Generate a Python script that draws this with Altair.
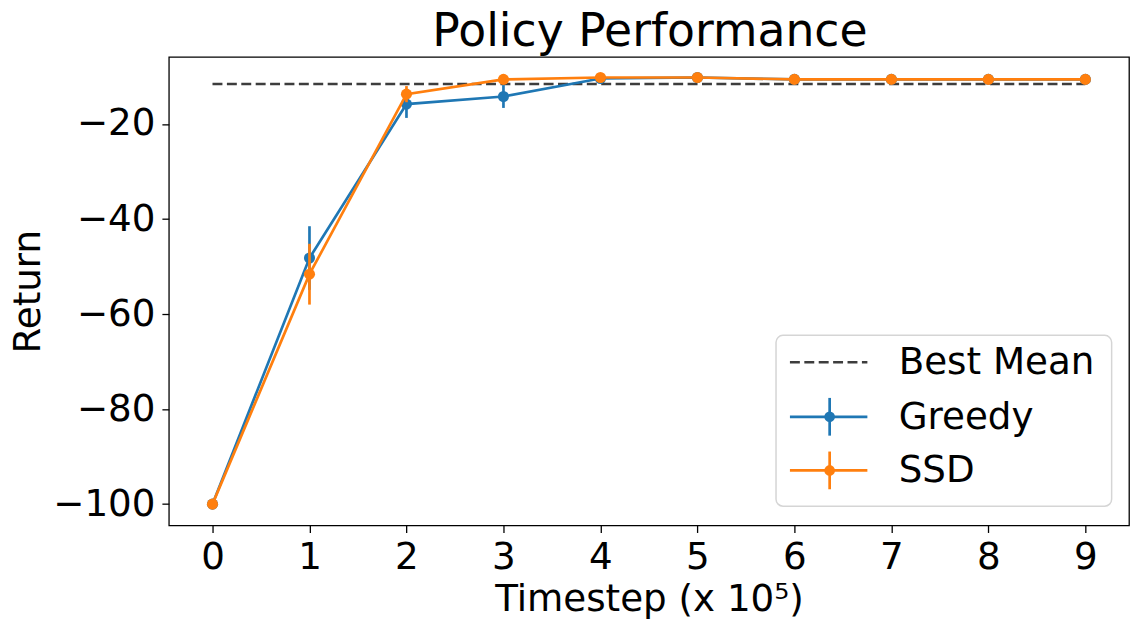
import altair as alt
import pandas as pd

# ---- data ----
timesteps = [0, 1, 2, 3, 4, 5, 6, 7, 8, 9]
greedy_mean = [-100.0, -48.2, -15.8, -14.2, -10.4, -10.2, -10.6, -10.6, -10.6, -10.6]
greedy_err = [0.3, 6.7, 2.9, 2.4, 0.4, 0.3, 0.3, 0.3, 0.3, 0.3]
ssd_mean = [-100.0, -51.6, -13.7, -10.6, -10.2, -10.2, -10.6, -10.6, -10.6, -10.6]
ssd_err = [0.3, 6.4, 1.7, 0.5, 0.4, 0.3, 0.3, 0.3, 0.3, 0.3]
best_mean = -11.55
series_names = ["Greedy", "SSD"]
series_colors = ["#1f77b4", "#ff7f0e"]
legend_labels = ["Best Mean", "Greedy", "SSD"]
chart_title = "Policy Performance"
x_ticks = [0, 1, 2, 3, 4, 5, 6, 7, 8, 9]
y_ticks = [-100, -80, -60, -40, -20]

rows = []
for name, means, errs in [("Greedy", greedy_mean, greedy_err), ("SSD", ssd_mean, ssd_err)]:
    for t, m, e in zip(timesteps, means, errs):
        rows.append({"series": name, "t": t, "mean": m, "lo": m - e, "hi": m + e})
df = pd.DataFrame(rows)
best_df = pd.DataFrame({"x0": [timesteps[0]], "x1": [timesteps[-1]], "y": [best_mean]})
dummy = pd.DataFrame({"d": [0]})

FONT = "DejaVu Sans"
FS = 37.5
W, H = 967, 472

xscale = alt.Scale(domain=[-0.45, 9.45], nice=False, zero=False)
yscale = alt.Scale(domain=[-104.5, -5.85], nice=False, zero=False)

x_axis = alt.Axis(values=x_ticks, format="d", title="Timestep (x 10⁵)", grid=False, domain=False,
                  tickSize=7, tickWidth=1.3, tickColor="black", labelFontSize=FS, titleFontSize=FS,
                  labelFont=FONT, titleFont=FONT, labelColor="black", titleColor="black",
                  titleFontWeight="normal", labelPadding=6, titlePadding=5, labelFlush=False)
y_axis = alt.Axis(values=y_ticks, format="d", title="Return", grid=False, domain=False,
                  tickSize=7, tickWidth=1.3, tickColor="black", labelFontSize=FS, titleFontSize=FS,
                  labelFont=FONT, titleFont=FONT, labelColor="black", titleColor="black",
                  titleFontWeight="normal", labelPadding=7, titlePadding=5, labelFlush=False)

X = alt.X("t:Q", scale=xscale, axis=x_axis)

layers = []
best = alt.Chart(best_df).mark_rule(color="#3d3d3d", strokeWidth=2.6, strokeDash=[10, 4.5]).encode(
    x=alt.X("x0:Q", scale=xscale, axis=x_axis), x2="x1:Q",
    y=alt.Y("y:Q", scale=yscale, axis=y_axis))
layers.append(best)

for name, color in zip(series_names, series_colors):
    base = alt.Chart(df).transform_filter(alt.datum.series == name)
    layers.append(base.mark_line(color=color, strokeWidth=2.7).encode(
        x=X, y=alt.Y("mean:Q", scale=yscale, axis=y_axis)))
    layers.append(base.mark_rule(color=color, strokeWidth=2.7).encode(
        x=X, y=alt.Y("lo:Q", scale=yscale, axis=y_axis), y2="hi:Q"))
    layers.append(base.mark_circle(color=color, size=125, opacity=1).encode(
        x=X, y=alt.Y("mean:Q", scale=yscale, axis=y_axis)))

# ---- legend (drawn manually to reproduce matplotlib's handles) ----
lg = alt.Chart(dummy)
layers.append(lg.mark_rect(fill="white", stroke="#d5d5d5", strokeWidth=1.5, cornerRadius=7).encode(
    x=alt.value(611.5), x2=alt.value(949.5), y=alt.value(280.5), y2=alt.value(452.5)))
row_y = [307.5, 362.5, 416.5]
layers.append(lg.mark_rule(color="#3d3d3d", strokeWidth=2.6, strokeDash=[10, 4.5]).encode(
    x=alt.value(625.5), x2=alt.value(703.5), y=alt.value(row_y[0])))
for ry, color in zip(row_y[1:], series_colors):
    layers.append(lg.mark_rule(color=color, strokeWidth=2.7).encode(
        x=alt.value(625.5), x2=alt.value(703.5), y=alt.value(ry)))
    layers.append(lg.mark_rule(color=color, strokeWidth=2.7).encode(
        x=alt.value(665.5), y=alt.value(ry - 19), y2=alt.value(ry + 19)))
    layers.append(lg.mark_circle(color=color, size=115, opacity=1).encode(
        x=alt.value(665.5), y=alt.value(ry)))
for ry, lab in zip(row_y, legend_labels):
    layers.append(lg.mark_text(text=lab, align="left", baseline="middle", font=FONT, fontSize=FS,
                               color="black").encode(x=alt.value(735), y=alt.value(ry + 1)))

# ---- chart title, centred above the plot area ----
layers.append(lg.mark_text(text=chart_title, align="center", baseline="alphabetic", font=FONT,
                           fontSize=46, color="black").encode(x=alt.value(W / 2 + 1), y=alt.value(-11)))

chart = alt.layer(*layers).properties(
    width=W, height=H,
    autosize=alt.AutoSizeParams(type="none"),
    padding={"left": 162, "top": 47, "right": 2, "bottom": 98},
).configure_view(stroke="black", strokeWidth=1.3)

chart.save("out.html", embed_options={"renderer": "svg", "actions": False})
